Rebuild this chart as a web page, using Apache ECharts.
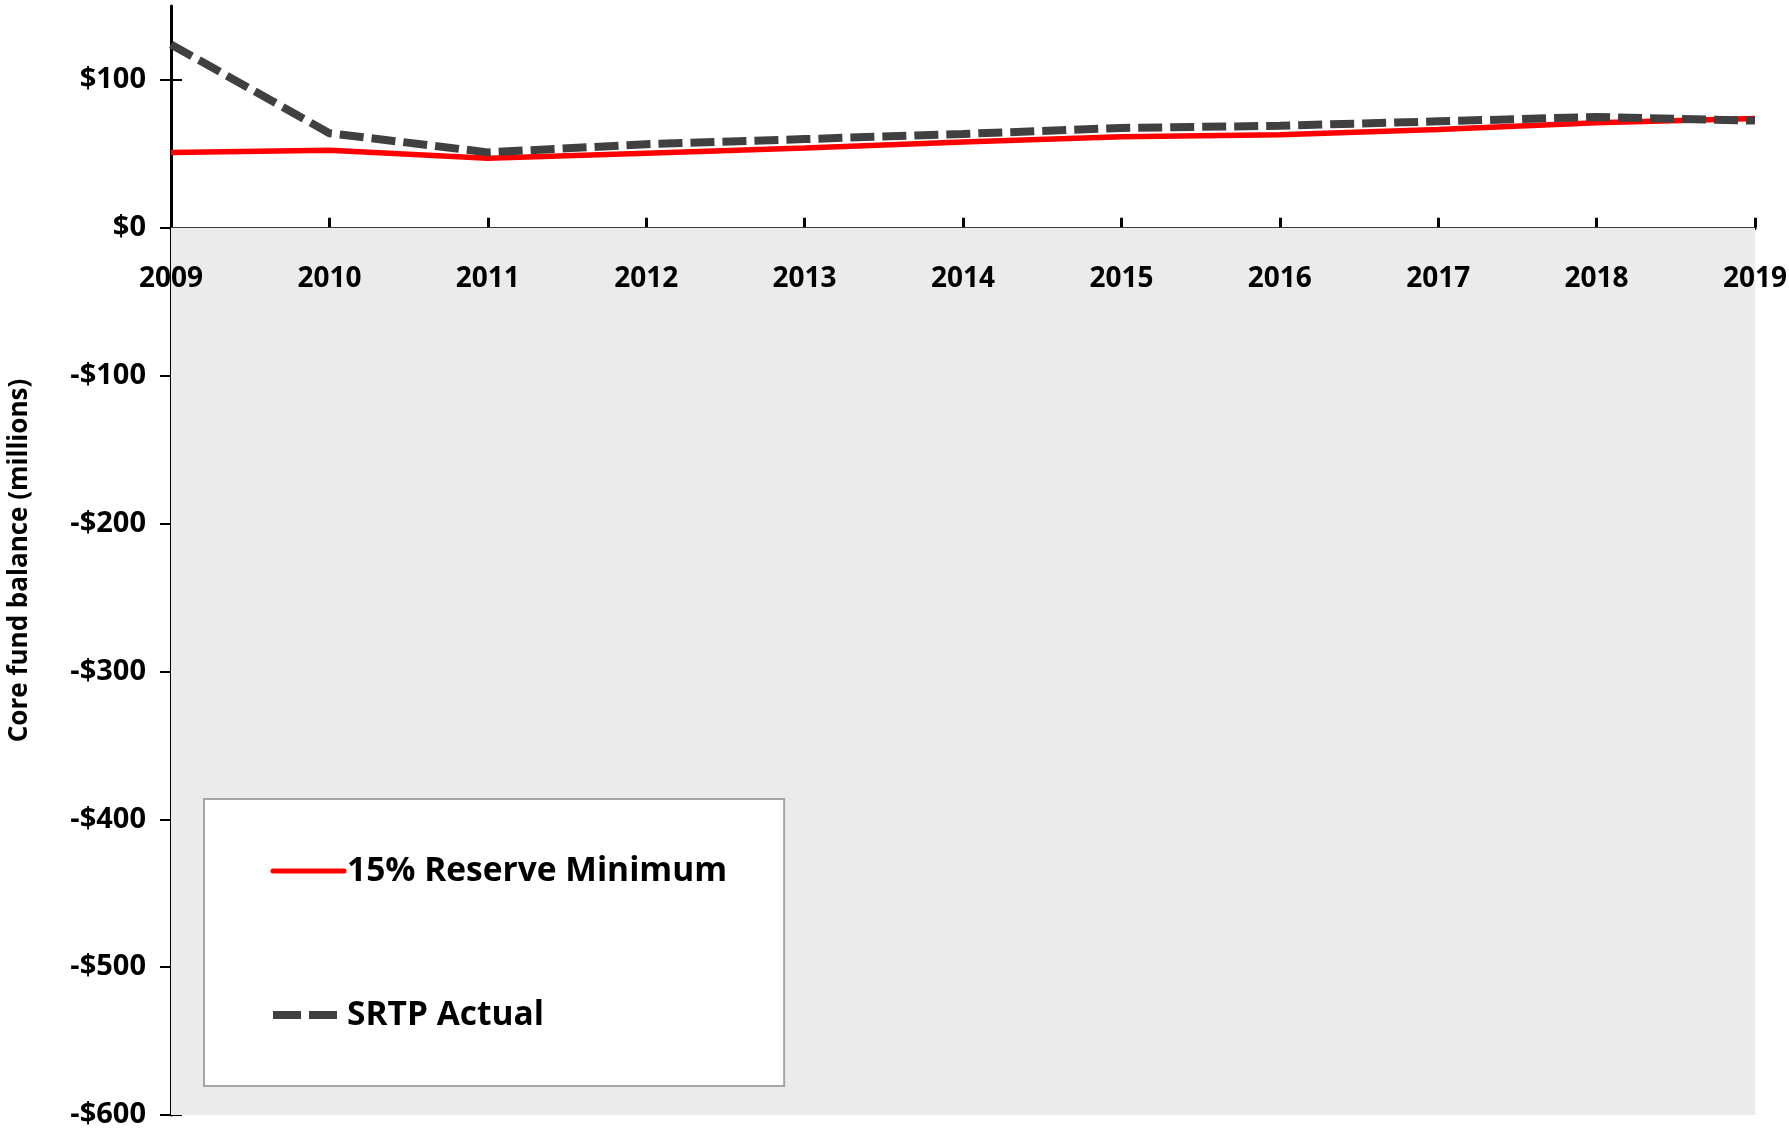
<!DOCTYPE html>
<html><head><meta charset="utf-8">
<script src="https://cdn.jsdelivr.net/npm/echarts@6/dist/echarts.min.js"></script>
<style>html,body{margin:0;padding:0;background:#fff}#c{width:1789px;height:1128px}</style>
</head><body><div id="c"></div>
<script>
var years = ['2009','2010','2011','2012','2013','2014','2015','2016','2017','2018','2019'];
var reserveMinimum = [51, 52.5, 47, 50.5, 54, 58, 61.5, 63, 66.5, 71, 74];
var srtpActual = [124, 64, 51, 56.5, 60, 63.5, 67.5, 69, 72, 75, 72.5];
var yTicks = [-600, -500, -400, -300, -200, -100, 0, 100];
var seriesNames = ['15% Reserve Minimum', 'SRTP Actual'];
var yName = 'Core fund balance (millions)';

var FONT = '"Open Sans", sans-serif';
function fmt(v){ return v < 0 ? '-$' + Math.abs(v) : '$' + v; }

var chart = echarts.init(document.getElementById('c'), null, {renderer:'canvas'});
chart.setOption({
  animation: false,
  backgroundColor: '#ffffff',
  grid: {left: 171, right: 34, top: 6, bottom: 13, containLabel: false, outerBoundsMode: 'none'},
  legend: {
    orient: 'vertical', left: 204, top: 799,
    data: [
      {name: seriesNames[0], lineStyle: {width: 5, color: '#ff0000', cap: 'round'}},
      {name: seriesNames[1], lineStyle: {width: 8, color: '#404040', type: [28, 8]}}
    ],
    itemWidth: 71, itemHeight: 20, itemGap: 104,
    padding: [52, 57, 51, 65],
    backgroundColor: '#ffffff', borderColor: '#a6a6a6', borderWidth: 2,
    textStyle: {fontFamily: FONT, fontWeight: 'bold', fontSize: 33.5, color: '#000', lineHeight: 40, padding: [0,0,0,-2]},
    itemStyle: {opacity: 0}
  },
  xAxis: [{
    type: 'category', data: years, boundaryGap: false,
    axisLine: {onZero: true, lineStyle: {color: '#000', width: 3}},
    axisTick: {inside: true, length: 10, lineStyle: {color: '#000', width: 3}},
    axisLabel: {show: false},
    splitLine: {show: false}
  },{
    type: 'category', data: years, boundaryGap: false, position: 'bottom', offset: -888, z: 20,
    axisLine: {show: false, onZero: false},
    axisTick: {show: false},
    axisLabel: {fontFamily: FONT, fontWeight: 'bold', fontSize: 28, color: '#000', margin: 38, interval: 0, showMinLabel: true, showMaxLabel: true},
    splitLine: {show: false}
  }],
  yAxis: [{
    type: 'value', min: -600, max: 150, interval: 50,
    name: yName, nameLocation: 'middle', nameGap: 138,
    nameTextStyle: {fontFamily: FONT, fontWeight: 'bold', fontSize: 26, color: '#000'},
    axisLine: {show: true, lineStyle: {color: '#000', width: 3}},
    axisTick: {show: true, length: 11, customValues: yTicks, lineStyle: {color: '#000', width: 2}},
    axisLabel: {fontFamily: FONT, fontWeight: 'bold', fontSize: 29, color: '#000', margin: 25, customValues: yTicks, formatter: fmt},
    splitLine: {show: false}
  },{
    type: 'value', min: -600, max: 150, interval: 50, position: 'left',
    axisLine: {show: false},
    axisTick: {show: true, inside: true, length: 11, customValues: yTicks, lineStyle: {color: '#000', width: 2}},
    axisLabel: {show: false},
    splitLine: {show: false}
  }],
  series: [{
    name: seriesNames[0], type: 'line', data: reserveMinimum, symbol: 'none', z: 3,
    lineStyle: {color: '#ff0000', width: 5.5},
    itemStyle: {color: '#ff0000'},
    markArea: {silent: true, itemStyle: {color: '#ebebeb'}, data: [[{yAxis: -600}, {yAxis: 0}]]}
  },{
    name: seriesNames[1], type: 'line', data: srtpActual, symbol: 'none', z: 4,
    lineStyle: {color: '#404040', width: 8, type: [24, 8]},
    itemStyle: {color: '#404040'}
  }]
});
</script></body></html>
